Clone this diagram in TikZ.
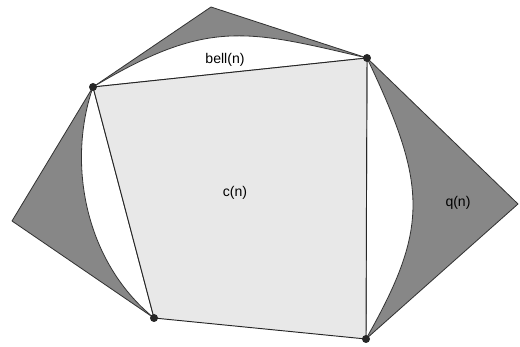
\documentclass[tikz,border=0pt]{standalone}
\usepackage{fontspec}
\setmainfont{Liberation Sans}
\begin{document}
\begin{tikzpicture}[
    x=0.03cm,y=-0.03cm,
    wedge/.style={
      fill=black!47,
      draw=black!80,
      line width=0.7pt,
      line join=round
    },
    bell/.style={fill=white,draw=black!80,line width=0.7pt},
    cell/.style={fill=black!9,draw=black!85,line width=0.8pt,line join=round},
    vertex/.style={circle,fill=black!85,inner sep=0pt,minimum size=0.24cm},
    tag/.style={font=\fontsize{12}{14}\selectfont,inner sep=0pt}
  ]
    \useasboundingbox (0,0) rectangle (520,347);
    \coordinate (a) at (93,87);
    \coordinate (b) at (367,58);
    \coordinate (c) at (366,339);
    \coordinate (d) at (154,318);
    \coordinate (top) at (211,7);
    \coordinate (right) at (518,204);
    \coordinate (left) at (12,221);
    % outer wedges
    \draw[wedge] (a) -- (top) -- (b) -- cycle;
    \draw[wedge] (b) -- (right) -- (c) -- cycle;
    \draw[wedge] (a) -- (left) -- (d) -- cycle;
    % bells
    \draw[bell] (a) .. controls (208,18) and (247,30) .. (b) -- cycle;
    \draw[bell] (b) .. controls (428,186) and (429,228) .. (c) -- cycle;
    \draw[bell] (a) .. controls (67,162) and (84,261) .. (d) -- cycle;
    % the cell
    \draw[cell] (a) -- (b) -- (c) -- (d) -- cycle;
    \node[vertex] (va) at (a) {};
    \node[vertex] (vb) at (b) {};
    \node[vertex] (vc) at (c) {};
    \node[vertex] (vd) at (d) {};
    \node[tag] (bell) at (225,60) {bell(n)};
    \node[tag] (cn) at (235,193) {c(n)};
    \node[tag] (qn) at (458,203) {q(n)};
  \end{tikzpicture}
\end{document}
